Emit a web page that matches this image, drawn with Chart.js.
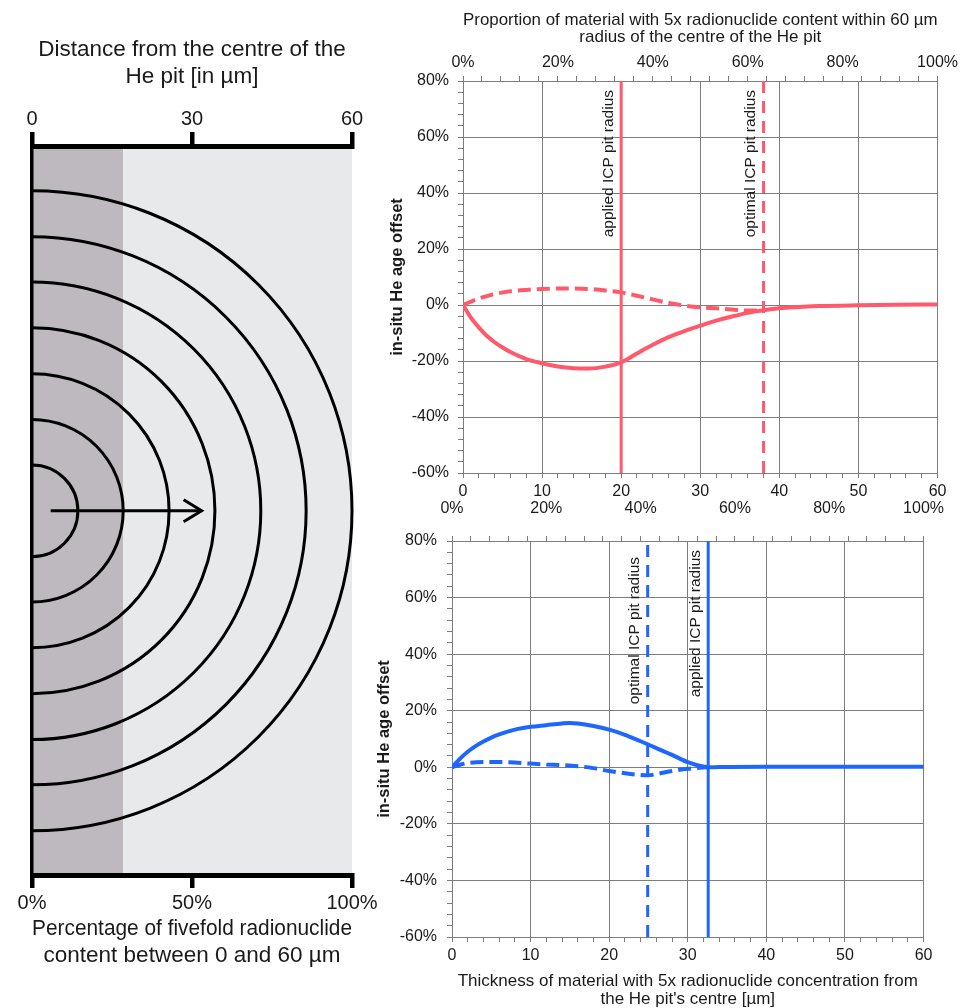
<!DOCTYPE html>
<html><head><meta charset="utf-8">
<script src="https://cdn.jsdelivr.net/npm/chart.js@4.4.1/dist/chart.umd.min.js"></script>
<style>
html,body{margin:0;padding:0;background:#fff;}
#wrap{position:relative;width:962px;height:1008px;overflow:hidden;}
canvas{position:absolute;left:0;top:0;}
</style></head><body>
<div id="wrap">
<canvas id="cLeft" width="962" height="1008"></canvas>
<canvas id="cTop" width="962" height="1008"></canvas>
<canvas id="cBottom" width="962" height="1008"></canvas>
</div>
<script>
// ---------- data ----------
// left diagram (µm)
const ringRadii = [8.6, 17.1, 25.7, 34.3, 42.9, 51.4, 60];
const shadedTo = 17.1;
const arrowFromTo = [3.5, 31.8];
const leftTopTicks = [0, 30, 60];
const leftBottomTicks = [0, 50, 100];

// shared tick labels
const xMajor = [0, 10, 20, 30, 40, 50, 60];
const pctMajor = [0, 20, 40, 60, 80, 100];
const yMajor = [-60, -40, -20, 0, 20, 40, 60, 80];

// upper chart (red)
const redSolidX = [0, 1, 2, 3, 4, 5, 6, 8, 10, 12, 14, 16, 18, 20, 22, 24, 26, 28, 30, 32, 34, 36, 38, 40, 42, 45, 50, 55, 60];
const redSolidY = [0, -4.5, -8, -11, -13.3, -15.2, -16.8, -19.3, -20.8, -22.0, -22.6, -22.7, -22.0, -20.5, -17.3, -14.2, -11.5, -9.3, -7.4, -5.6, -4.1, -2.8, -1.9, -1.2, -0.8, -0.4, -0.1, 0.1, 0.2];
const redDashX = [0, 2, 4, 6, 8, 10, 12, 14, 16, 18, 20, 22, 24, 26, 28, 30, 32, 34, 36, 38];
const redDashY = [0, 2.3, 3.9, 4.9, 5.4, 5.7, 5.9, 5.9, 5.7, 5.2, 4.5, 3.3, 2.0, 0.7, -0.2, -0.8, -1.2, -1.6, -2.0, -1.9];
const redApplied = 20;
const redOptimal = 38;

// lower chart (blue)
const blueSolidX = [0, 1, 2, 3, 4, 5, 6, 8, 10, 12, 14, 15, 16, 18, 20, 22, 24, 26, 28, 30, 31, 32, 32.6, 34, 40, 50, 60];
const blueSolidY = [0, 3.0, 5.5, 7.5, 9.1, 10.5, 11.6, 13.3, 14.3, 14.9, 15.5, 15.7, 15.5, 14.6, 13.3, 11.5, 9.2, 6.8, 4.4, 1.8, 0.9, 0.3, 0, 0.1, 0.2, 0.2, 0.2];
const blueDashX = [0, 1, 2, 4, 6, 8, 10, 12, 14, 16, 18, 20, 22, 24, 25, 26, 28, 30, 32, 32.6];
const blueDashY = [0, 0.9, 1.5, 1.9, 1.9, 1.7, 1.3, 1.0, 0.8, 0.4, -0.3, -1.3, -2.1, -2.7, -2.8, -2.4, -1.3, -0.5, -0.1, 0];
const blueOptimal = 24.9;
const blueApplied = 32.6;

// ---------- style ----------
const FONT = "'Liberation Sans', Arial, Helvetica, sans-serif";
const TEXT = '#1a1a1a';
const GRAY = '#7d7d7d';
const RED = '#ff5a6b';
const BLUE = '#1f66ff';
Chart.defaults.font.family = FONT;
Chart.defaults.color = TEXT;

function pts(xs, ys) { return xs.map((x, i) => ({x: x, y: ys[i]})); }
function gridColor(major) {
  return c => major.includes(Math.round(c.tick.value)) ? GRAY : 'rgba(0,0,0,0)';
}

// ---------- left diagram ----------
const diagramPlugin = {
  id: 'diagram',
  beforeDraw(chart) {
    const {ctx, chartArea: a, scales: {x}} = chart;
    const x0 = x.getPixelForValue(0), xs = x.getPixelForValue(shadedTo), x1 = x.getPixelForValue(60);
    ctx.save();
    ctx.fillStyle = '#bdb9bf';
    ctx.fillRect(x0, a.top, xs - x0, a.bottom - a.top);
    ctx.fillStyle = '#e7e9eb';
    ctx.fillRect(xs, a.top, x1 - xs, a.bottom - a.top);
    ctx.restore();
  },
  afterDatasetsDraw(chart) {
    const {ctx, scales: {x, y}} = chart;
    const cx = x.getPixelForValue(0), cy = y.getPixelForValue(0);
    ctx.save();
    ctx.strokeStyle = '#000';
    ctx.lineWidth = 3;
    ringRadii.forEach(r => {
      const rx = x.getPixelForValue(r) - cx;
      const ry = cy - y.getPixelForValue(r);
      ctx.beginPath();
      ctx.ellipse(cx, cy, rx, ry, 0, -Math.PI / 2, Math.PI / 2);
      ctx.stroke();
    });
    const ax0 = x.getPixelForValue(arrowFromTo[0]), ax1 = x.getPixelForValue(arrowFromTo[1]);
    ctx.beginPath();
    ctx.moveTo(ax0, cy); ctx.lineTo(ax1, cy);
    ctx.stroke();
    ctx.beginPath();
    ctx.moveTo(ax1 - 18, cy - 11); ctx.lineTo(ax1, cy); ctx.lineTo(ax1 - 18, cy + 11);
    ctx.stroke();
    ctx.restore();
  }
};

new Chart(document.getElementById('cLeft'), {
  type: 'scatter',
  data: {datasets: []},
  plugins: [diagramPlugin],
  options: {
    responsive: false, animation: false, devicePixelRatio: 1,
    layout: {padding: {left: 32, right: 610, top: 30, bottom: 39}},
    plugins: {legend: {display: false}, tooltip: {enabled: false}},
    scales: {
      x: {
        type: 'linear', position: 'top', min: 0, max: 60,
        afterFit: s => { s.height = 116; },
        ticks: {stepSize: 30, autoSkip: false, maxRotation: 0, padding: 1, font: {size: 20}, color: TEXT,
          callback: v => leftTopTicks.includes(v) ? String(v) : ''},
        grid: {drawOnChartArea: false, color: '#000', tickLength: 14, lineWidth: 4.5},
        border: {color: '#000', width: 5},
        title: {display: true, text: ['Distance from the centre of the', 'He pit [in µm]'],
          font: {size: 22.5, lineHeight: 1.2}, color: TEXT, padding: {top: 6.5, bottom: 0}}
      },
      xPct: {
        type: 'linear', position: 'bottom', min: 0, max: 100,
        afterFit: s => { s.height = 94; },
        ticks: {stepSize: 50, autoSkip: false, maxRotation: 0, padding: 3.5, font: {size: 20}, color: TEXT,
          callback: v => leftBottomTicks.includes(v) ? v + '%' : ''},
        grid: {drawOnChartArea: false, color: '#000', tickLength: 13, lineWidth: 4.5},
        border: {color: '#000', width: 5},
        title: {display: true, text: ['Percentage of fivefold radionuclide', 'content between 0 and 60 µm'],
          font: {size: 22.5, lineHeight: 1.2}, color: TEXT, padding: {top: 0, bottom: 0}}
      },
      y: {
        type: 'linear', position: 'left', min: -68.3, max: 68.4,
        afterFit: s => { s.width = 0; },
        ticks: {display: false},
        grid: {drawOnChartArea: false, drawTicks: false},
        border: {color: '#000', width: 3.5}
      }
    }
  }
});

// ---------- right charts ----------
const markerPlugin = {
  id: 'markerLabels',
  afterDatasetsDraw(chart, args, opts) {
    const {ctx, chartArea: a, scales: {x}} = chart;
    ctx.save();
    ctx.fillStyle = TEXT;
    ctx.font = '15.5px ' + FONT;
    ctx.textAlign = 'right';
    ctx.textBaseline = 'alphabetic';
    (opts.items || []).forEach(m => {
      const px = x.getPixelForValue(m.value);
      ctx.save();
      ctx.translate(px - 8.5, a.top + m.offset);
      ctx.rotate(-Math.PI / 2);
      ctx.fillText(m.text, 0, 0);
      ctx.restore();
    });
    ctx.restore();
  }
};

function vline(v, color, dashed) {
  return {data: [{x: v, y: -60}, {x: v, y: 80}], borderColor: color, borderWidth: 3,
    borderDash: dashed ? [12, 8] : [], pointRadius: 0, tension: 0};
}
function curve(xs, ys, color, dashed) {
  return {data: pts(xs, ys), borderColor: color, borderWidth: 4, borderDash: dashed ? [13, 6] : [],
    pointRadius: 0, cubicInterpolationMode: 'monotone', borderCapStyle: 'butt'};
}

function rightChart(id, cfg) {
  return new Chart(document.getElementById(id), {
    type: 'line',
    data: {datasets: cfg.datasets},
    plugins: [markerPlugin],
    options: {
      responsive: false, animation: false, devicePixelRatio: 1,
      layout: {padding: cfg.padding},
      plugins: {legend: {display: false}, tooltip: {enabled: false}, markerLabels: {items: cfg.markers}},
      scales: {
        x: {
          type: 'linear', position: 'bottom', min: 0, max: 60,
          afterFit: s => { s.height = cfg.xHeight; },
          ticks: {stepSize: 2, autoSkip: false, maxRotation: 0, minRotation: 0, padding: 4, font: {size: 16}, color: TEXT,
            callback: v => xMajor.includes(v) ? String(v) : ''},
          grid: {color: gridColor(xMajor), tickColor: GRAY, tickLength: 5, lineWidth: 1},
          border: {color: GRAY, width: 1},
          title: cfg.xTitle ? {display: true, text: cfg.xTitle, font: {size: 17, lineHeight: 1.05}, color: TEXT, padding: {top: 0, bottom: 0}} : {display: false}
        },
        xTop: {
          type: 'linear', position: 'top', min: 0, max: 100,
          afterFit: s => { s.height = cfg.topHeight; },
          ticks: {stepSize: 4, autoSkip: false, maxRotation: 0, minRotation: 0, padding: cfg.topPad, font: {size: 16}, color: TEXT,
            callback: v => pctMajor.includes(v) ? v + '%' : ''},
          grid: {drawOnChartArea: false, color: GRAY, tickColor: GRAY, tickLength: 5, lineWidth: 1},
          border: {color: GRAY, width: 1},
          title: cfg.topTitle ? {display: true, text: cfg.topTitle, font: {size: 17, lineHeight: 1.05}, color: TEXT, padding: {top: 5, bottom: 0}} : {display: false}
        },
        y: {
          type: 'linear', position: 'left', min: -60, max: 80,
          afterFit: s => { s.width = 80; },
          ticks: {stepSize: 4, autoSkip: false, padding: cfg.yPad, font: {size: 16}, color: TEXT,
            callback: v => yMajor.includes(v) ? v + '%' : ''},
          grid: {color: gridColor(yMajor), tickColor: GRAY, tickLength: 5, lineWidth: 1},
          border: {color: GRAY, width: 1},
          title: {display: true, text: 'in-situ He age offset', font: {size: 16.5, weight: 'bold'}, color: TEXT,
            padding: {top: cfg.yTitlePad, bottom: 0}}
        }
      }
    }
  });
}

rightChart('cTop', {
  padding: {left: 383, right: 24, top: 6, bottom: 505},
  xHeight: 30, topHeight: 75, topPad: 4, yPad: 9, yTitlePad: 5,
  topTitle: ['Proportion of material with 5x radionuclide content within 60 µm', 'radius of the centre of the He pit'],
  datasets: [
    vline(redApplied, RED, false),
    vline(redOptimal, RED, true),
    curve(redDashX, redDashY, RED, true),
    curve(redSolidX, redSolidY, RED, false)
  ],
  markers: [
    {value: redApplied, text: 'applied ICP pit radius', offset: 9},
    {value: redOptimal, text: 'optimal ICP pit radius', offset: 9}
  ]
});

rightChart('cBottom', {
  padding: {left: 372, right: 35, top: 501, bottom: 0},
  xHeight: 71, topHeight: 40, topPad: 18, yPad: 10, yTitlePad: 3,
  xTitle: ['Thickness of material with 5x radionuclide concentration from', "the He pit's centre [µm]"],
  datasets: [
    vline(blueOptimal, BLUE, true),
    vline(blueApplied, BLUE, false),
    curve(blueDashX, blueDashY, BLUE, true),
    curve(blueSolidX, blueSolidY, BLUE, false)
  ],
  markers: [
    {value: blueOptimal, text: 'optimal ICP pit radius', offset: 16},
    {value: blueApplied, text: 'applied ICP pit radius', offset: 9}
  ]
});
</script>
</body></html>
